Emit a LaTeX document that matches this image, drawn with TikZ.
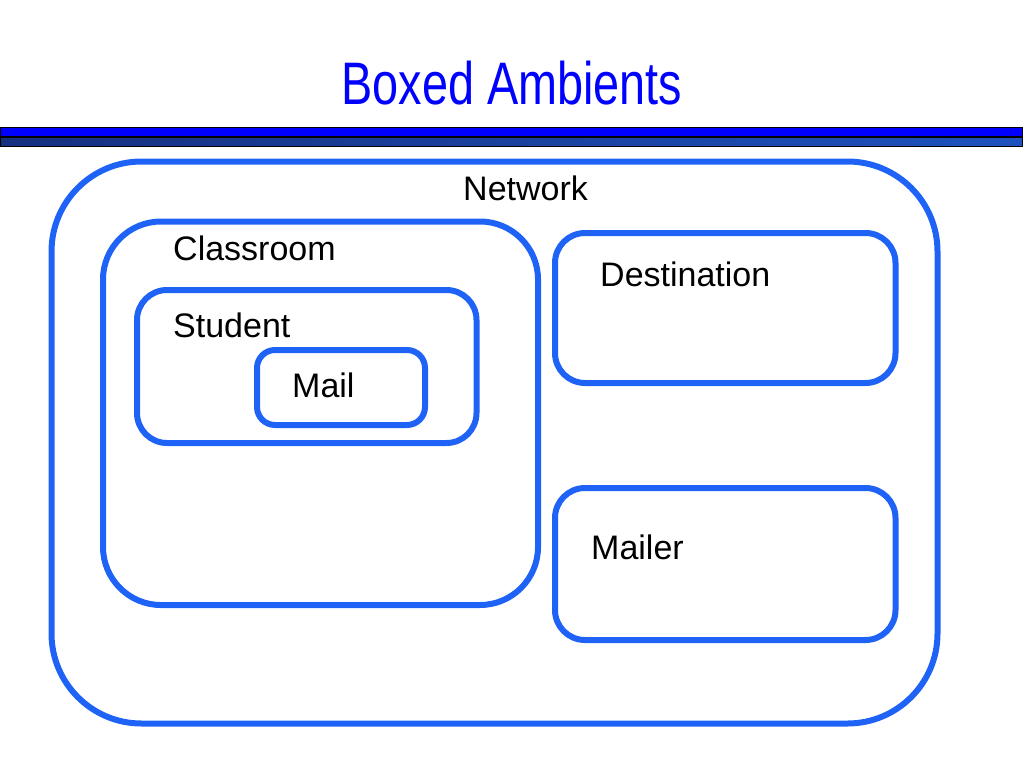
\documentclass[tikz,border=0pt]{standalone}
\usepackage{fontspec}
\setmainfont{Liberation Sans}
\newfontfamily\titlefont[FakeStretch=0.78]{Liberation Sans}
\usepackage{tikz}
\usetikzlibrary{backgrounds}
\definecolor{ambientblue}{RGB}{31,99,246}
\definecolor{bardark}{RGB}{22,48,128}
\definecolor{barlight}{RGB}{30,82,190}
\tikzset{
  ambient/.style={draw=ambientblue, line width=6pt},
  ambientlabel/.style={anchor=base west, inner sep=0pt, font=\fontsize{34}{40}\selectfont}
}
\begin{document}
\begin{tikzpicture}[x=1pt,y=-1pt]
\useasboundingbox (0,0) rectangle (1024,768);
\node[anchor=base, inner sep=0pt, text=blue, font=\titlefont\fontsize{60}{70}\selectfont] (title) at (512,104) {Boxed Ambients};
\draw[black, line width=1pt, fill=blue] (0,127) rectangle (1022,136.5);
\draw[black, line width=1pt, left color=bardark, right color=barlight] (0,137.5) rectangle (1022,146);

\draw[ambient, rounded corners=90pt] (51.5,161.5) rectangle (937.5,723.5);
\draw[ambient, rounded corners=58pt] (103,221.5) rectangle (538,605);
\draw[ambient, rounded corners=30pt] (137,290) rectangle (476.5,443);
\draw[ambient, rounded corners=18pt] (257,350) rectangle (425,425);
\draw[ambient, rounded corners=30pt] (555,233) rectangle (895.5,383);
\draw[ambient, rounded corners=30pt] (555,488) rectangle (895.5,640);

\node[ambientlabel] (network) at (463,200) {Network};
\node[ambientlabel] (classroom) at (173,260) {Classroom};
\node[ambientlabel] (student) at (173,337) {Student};
\node[ambientlabel] (mail) at (292,397) {Mail};
\node[ambientlabel] (destination) at (600,286) {Destination};
\node[ambientlabel] (mailer) at (591,559) {Mailer};
\end{tikzpicture}
\end{document}
